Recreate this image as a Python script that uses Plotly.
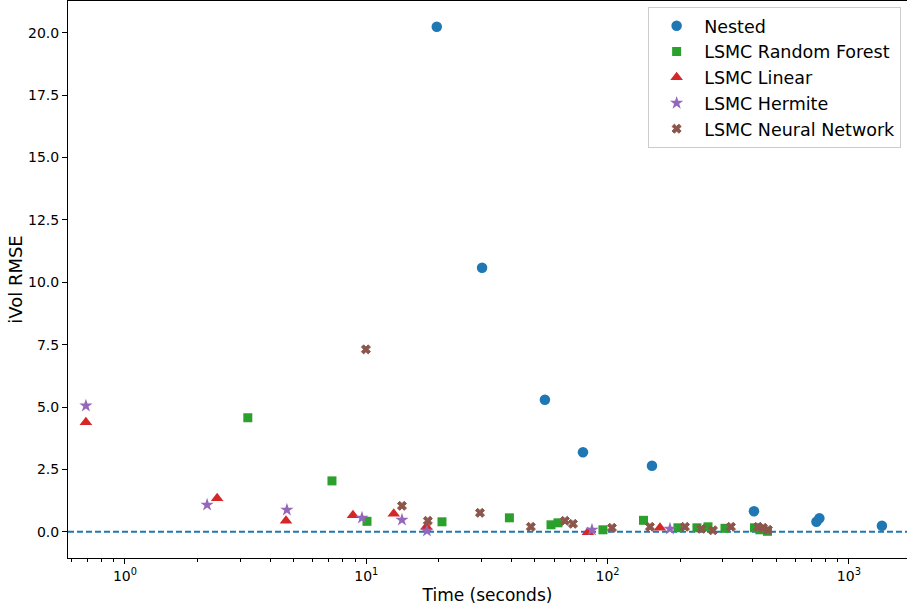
import plotly.graph_objects as go

# ---- data ----
nested_t = [19.6, 30.2, 55.0, 79.1, 152.8, 404.4, 734, 755, 1371]
nested_e = [20.24, 10.58, 5.29, 3.19, 2.65, 0.82, 0.40, 0.54, 0.24]

rf_t = [3.23, 7.21, 10.07, 20.6, 39.2, 58.3, 62.3, 95.7, 140.9, 195.8, 234.7, 260.8, 306.7, 406.3, 428, 460]
rf_e = [4.57, 2.04, 0.42, 0.40, 0.56, 0.28, 0.36, 0.08, 0.46, 0.16, 0.16, 0.20, 0.14, 0.16, 0.08, 0.02]

lin_t = [0.689, 2.41, 4.65, 8.81, 13.0, 17.76, 82.9, 164.9]
lin_e = [4.39, 1.34, 0.44, 0.66, 0.72, 0.20, -0.02, 0.16]

her_t = [0.689, 2.19, 4.69, 9.6, 14.06, 17.85, 86.2, 181.4]
her_e = [5.05, 1.08, 0.88, 0.56, 0.48, 0.04, 0.08, 0.12]

nn_t = [9.97, 14.06, 18.0, 29.6, 48.1, 66.6, 71.9, 104.3, 149.9, 209.3, 244.9, 273.4, 324.6, 420.1, 440.6, 462]
nn_e = [7.31, 1.04, 0.44, 0.76, 0.20, 0.44, 0.32, 0.16, 0.20, 0.20, 0.12, 0.06, 0.20, 0.20, 0.16, 0.08]

x_tickvals = [1, 10, 100, 1000]
x_ticktext = ["10<sup>0</sup>", "10<sup>1</sup>", "10<sup>2</sup>", "10<sup>3</sup>"]
y_tickvals = [0, 2.5, 5, 7.5, 10, 12.5, 15, 17.5, 20]

series = [
    ("Nested", nested_t, nested_e, "#1f77b4", "circle", 10.5, 0),
    ("LSMC Random Forest", rf_t, rf_e, "#2ca02c", "square", 9, 0),
    ("LSMC Linear", lin_t, lin_e, "#d62728", "triangle-up", 11, 0),
    ("LSMC Hermite", her_t, her_e, "#9467bd", "star", 10, 0),
    ("LSMC Neural Network", nn_t, nn_e, "#8c564b", "x", 8, 1),
]

fig = go.Figure()
for name, t, e, col, sym, sz, lw in series:
    fig.add_trace(go.Scatter(
        x=t, y=e, mode="markers", name=name,
        marker=dict(color=col, symbol=sym, size=sz, line=dict(width=lw, color=col)),
    ))

fig.add_hline(y=0, line=dict(color="#1f77b4", width=2, dash="6px,3px"), layer="below")

font = "DejaVu Sans, sans-serif"
fig.update_layout(
    width=907, height=610,
    margin=dict(l=68, r=0, t=1, b=52),
    plot_bgcolor="white", paper_bgcolor="white",
    font=dict(family=font, size=14, color="black"),
    showlegend=True,
    legend=dict(
        x=0.993, y=0.9895, xanchor="right", yanchor="top",
        bgcolor="rgba(255,255,255,0.8)", bordercolor="#cccccc", borderwidth=1,
        font=dict(family=font, size=17.5), itemsizing="trace",
        tracegroupgap=0, itemwidth=45,
    ),
    xaxis=dict(
        type="log", range=[-0.236, 3.241],
        tickvals=x_tickvals, ticktext=x_ticktext,
        ticks="outside", ticklen=5, tickcolor="black", tickwidth=1,
        showline=True, linecolor="black", linewidth=1, mirror=True,
        showgrid=False, zeroline=False,
        tickfont=dict(family=font, size=14),
        minor=dict(ticks="outside", ticklen=3, tickcolor="black", showgrid=False,
                   tickvals=[v * m for v in [0.1, 1, 10, 100, 1000] for m in range(2, 10)]),
        title=dict(text="Time (seconds)", font=dict(family=font, size=17), standoff=6),
    ),
    yaxis=dict(
        range=[-1.05, 21.27],
        tickvals=y_tickvals, tickformat=".1f",
        ticks="outside", ticklen=5, tickcolor="black", tickwidth=1,
        showline=True, linecolor="black", linewidth=1, mirror=True,
        showgrid=False, zeroline=False,
        tickfont=dict(family=font, size=14),
        title=dict(text="iVol RMSE", font=dict(family=font, size=18), standoff=0),
    ),
)

fig.write_html("out.html")
